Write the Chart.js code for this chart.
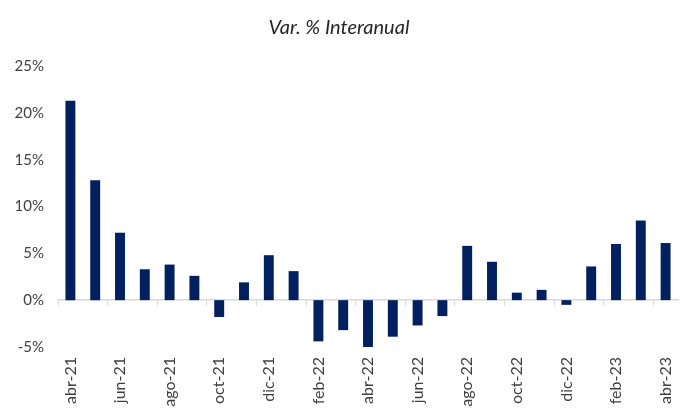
<!DOCTYPE html>
<html>
<head>
<meta charset="utf-8">
<script src="https://cdn.jsdelivr.net/npm/chart.js@4/dist/chart.umd.min.js"></script>
<style>
  html, body { margin: 0; padding: 0; background: #fff; }
  #wrap { width: 700px; height: 420px; }
</style>
</head>
<body>
<div id="wrap"><canvas id="chart"></canvas></div>
<script>
// Meses (abr-21 .. abr-23)
const months = [
    'abr-21', 'may-21', 'jun-21', 'jul-21', 'ago-21', 'sep-21', 'oct-21', 'nov-21', 'dic-21',
    'ene-22', 'feb-22', 'mar-22', 'abr-22', 'may-22', 'jun-22', 'jul-22', 'ago-22', 'sep-22',
    'oct-22', 'nov-22', 'dic-22', 'ene-23', 'feb-23', 'mar-23', 'abr-23'
];

// Var. % interanual
const varInteranual = [
    21.3, 12.8, 7.2, 3.3, 3.8, 2.6, -1.8, 1.9, 4.8,
    3.1, -4.4, -3.2, -5.1, -3.9, -2.7, -1.7, 5.8, 4.1,
    0.8, 1.1, -0.5, 3.6, 6.0, 8.5, 6.1
];

// Ticks del eje Y
const yTicks = [-5, 0, 5, 10, 15, 20, 25];

const barColor = '#002060';
const axisColor = '#d9d9d9';
const textColor = '#404040';
const fontFamily = 'Lato, "Open Sans", sans-serif';

new Chart(document.getElementById('chart'), {
    type: 'bar',
    data: {
        labels: months,
        datasets: [{
            label: 'Var. % Interanual',
            data: varInteranual,
            backgroundColor: barColor,
            borderWidth: 0,
            categoryPercentage: 1,
            barPercentage: 0.4
        }]
    },
    options: {
        responsive: true,
        maintainAspectRatio: false,
        animation: false,
        layout: {
            padding: { left: 0, right: 22, top: 0, bottom: 0 }
        },
        plugins: {
            legend: { display: false },
            tooltip: { enabled: false },
            title: {
                display: true,
                text: 'Var. % Interanual',
                color: '#262626',
                font: { family: fontFamily, size: 20, style: 'italic', weight: 'normal', lineHeight: 1.2 },
                padding: { top: 16, bottom: 26 }
            }
        },
        scales: {
            x: {
                offset: true,
                grid: { display: false, drawTicks: false },
                border: { display: false },
                ticks: {
                    autoSkip: false,
                    minRotation: 90,
                    maxRotation: 90,
                    padding: 10,
                    color: textColor,
                    font: { family: fontFamily, size: 16 },
                    callback: function (value, index) {
                        return index % 2 === 0 ? months[index] : '';
                    }
                },
                afterFit: function (scale) {
                    scale.height = 73;
                }
            },
            // linea del cero con marcas cada dos meses
            x0: {
                type: 'category',
                position: { y: 0 },
                offset: true,
                grid: {
                    offset: true,
                    drawOnChartArea: false,
                    drawTicks: true,
                    tickLength: 5,
                    color: function (ctx) {
                        return ctx.index % 2 === 0 ? axisColor : 'rgba(0,0,0,0)';
                    }
                },
                border: { display: true, color: axisColor, width: 1.5 },
                ticks: { display: false }
            },
            y: {
                min: -5,
                max: 25,
                afterBuildTicks: function (scale) {
                    scale.ticks = yTicks.map(v => ({ value: v }));
                },
                grid: { display: false, drawTicks: false },
                border: { display: false },
                ticks: {
                    padding: 14,
                    color: textColor,
                    font: { family: fontFamily, size: 15 },
                    callback: function (value) {
                        return value + '%';
                    }
                },
                afterFit: function (scale) {
                    scale.width = 58;
                }
            }
        }
    }
});
</script>
</body>
</html>
